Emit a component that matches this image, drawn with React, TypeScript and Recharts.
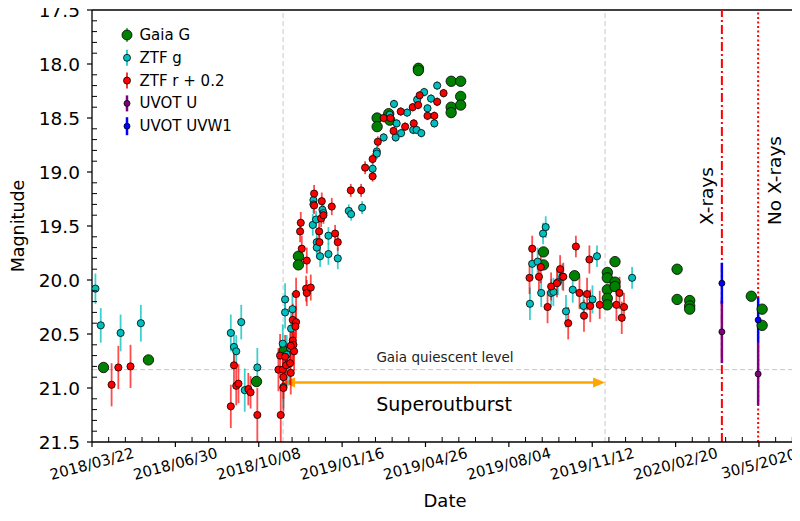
import React from "react";
import { ScatterChart, Scatter, XAxis, YAxis, ErrorBar, ReferenceLine, Legend } from "recharts";

// x values are days counted from 2018/03/22
const xMajorDays = [0, 100, 200, 300, 400, 500, 600, 700, 800];
const xMajorLabels = [
  "2018/03/22", "2018/06/30", "2018/10/08", "2019/01/16", "2019/04/26",
  "2019/08/04", "2019/11/12", "2020/02/20", "30/5/2020",
];
const yMajor = [17.5, 18.0, 18.5, 19.0, 19.5, 20.0, 20.5, 21.0, 21.5];
const yMajorLabels = ["17.5", "18.0", "18.5", "19.0", "19.5", "20.0", "20.5", "21.0", "21.5"];

const xMinor = Array.from({ length: 44 }, (_, i) => i * 20);
const yMinor = Array.from({ length: 41 }, (_, i) => Math.round((17.5 + i * 0.1) * 10) / 10);

// [day, mag]
const gaiaG = [
  [13.8, 20.81], [67.7, 20.74], [197.3, 20.94], [230.4, 20.66], [247.6, 19.78], [247.6, 19.86],
  [342, 18.5], [342, 18.58], [355.9, 18.46], [357.2, 18.52], [391.5, 18.04], [391.5, 18.06],
  [430.9, 18.16], [442.2, 18.16], [442.2, 18.3], [430.8, 18.4], [442.2, 18.38], [430.8, 18.45],
  [541.5, 19.74], [541.5, 19.86], [578.8, 19.96], [618.1, 19.93], [618.1, 19.98], [618.1, 20.09],
  [618.1, 20.17], [618.1, 20.23], [627.3, 19.83], [627.3, 20.02], [627.3, 20.06], [701.8, 19.9],
  [701.8, 20.18], [716.9, 20.19], [716.9, 20.24], [716.9, 20.27], [790.8, 20.15], [803.8, 20.27],
  [803.8, 20.42],
];

// [day, mag, err]
const ztfG = [
  [4.1, 20.08, 0.14], [10.5, 20.42, 0.16], [34.3, 20.49, 0.17], [58.6, 20.4, 0.17],
  [166.5, 20.49, 0.17], [170.3, 20.62, 0.15], [173, 20.66, 0.15], [179, 20.39, 0.16], [183.2, 21.02, 0.2], [198.3, 20.81, 0.18],
  [229.6, 20.99, 0.2], [228.8, 20.59, 0.18], [231.6, 20.18, 0.15], [231.6, 20.3, 0.15], [233.6, 20.69, 0.18],
  [234.8, 20.78, 0.2], [237.6, 20.63, 0.15], [238.8, 20.45, 0.15], [240.4, 20.27, 0.15],
  [264.8, 19.49, 0.1], [265.6, 19.26, 0.08], [265.6, 19.3, 0.08], [268.8, 19.44, 0.08], [269.6, 19.65, 0.1],
  [269.6, 19.7, 0.1], [273.6, 19.78, 0.1], [276.4, 19.35, 0.08], [277.6, 19.38, 0.08], [283.6, 19.59, 0.08],
  [283.6, 19.76, 0.1], [294.8, 19.8, 0.1],
  [308, 19.36, 0.06], [310.8, 19.39, 0.06], [324, 19.33, 0.06], [336.6, 18.97, 0.05], [341.6, 18.81, 0.05], [341.6, 18.83, 0.05],
  [349.8, 18.68, 0.04], [357, 18.47, 0.04], [362.2, 18.37, 0.04], [364.2, 18.68, 0.04], [365.4, 18.55, 0.04],
  [370.8, 18.64, 0.04], [378, 18.45, 0.04], [385.2, 18.61, 0.04], [389.3, 18.61, 0.04], [395, 18.64, 0.04],
  [390, 18.33, 0.04], [398.4, 18.26, 0.04], [402.4, 18.41, 0.04], [406.6, 18.32, 0.04], [410.6, 18.55, 0.04], [414, 18.2, 0.04],
  [525.3, 20.22, 0.15], [528, 19.85, 0.13], [534.5, 19.83, 0.13], [538.8, 20.12, 0.13], [541, 19.57, 0.1],
  [544.2, 19.51, 0.1], [550.7, 20.12, 0.13], [553.4, 20.11, 0.13], [558.8, 20.02, 0.12], [564.2, 19.97, 0.12],
  [568.5, 20.29, 0.15], [576.6, 20.09, 0.12], [589.5, 20.24, 0.13], [600.3, 20.18, 0.13], [605.7, 19.78, 0.1],
  [647.8, 19.98, 0.1],
];

// ZTF r shifted by +0.2, [day, mag, err]
const ztfR = [
  [23.5, 20.97, 0.2], [31.6, 20.81, 0.2], [46.2, 20.8, 0.2],
  [166.5, 21.17, 0.2], [170.3, 20.79, 0.2], [173, 20.98, 0.18], [175.7, 20.96, 0.18], [187.5, 21.01, 0.15],
  [190.2, 21.04, 0.15], [198.3, 21.25, 0.25],
  [240.8, 20.37, 0.15], [244.8, 20.39, 0.15], [244, 20.43, 0.15], [240.8, 20.56, 0.18], [241.6, 20.6, 0.18],
  [242.4, 20.66, 0.18], [238.4, 20.61, 0.18], [225.6, 20.7, 0.2], [231.6, 20.71, 0.2], [223.6, 20.83, 0.2],
  [228.8, 20.83, 0.2], [232.8, 20.79, 0.2], [237.6, 20.77, 0.2], [229.6, 20.9, 0.2], [238.4, 20.86, 0.2],
  [229.6, 21.0, 0.22], [226.4, 21.25, 0.25], [244.8, 20.13, 0.15],
  [249.6, 19.55, 0.1], [250.4, 19.47, 0.1], [251.6, 19.71, 0.12], [257.6, 19.82, 0.12], [256.8, 20.08, 0.12],
  [257.6, 20.12, 0.12], [262.4, 20.07, 0.12], [266.4, 19.2, 0.08], [266.4, 19.31, 0.08], [272.4, 19.55, 0.1],
  [272.8, 19.65, 0.1], [274.8, 19.43, 0.08], [275.6, 19.27, 0.08], [277.6, 19.4, 0.08], [287.6, 19.32, 0.08],
  [291.6, 19.57, 0.08], [294.8, 19.65, 0.08],
  [310.4, 19.17, 0.06], [322.8, 19.17, 0.06], [327.6, 18.96, 0.06], [336.6, 18.88, 0.05], [336.6, 19.04, 0.05], [342.8, 18.72, 0.05],
  [349.8, 18.5, 0.04], [358, 18.5, 0.04], [361.7, 18.62, 0.04], [370.3, 18.44, 0.04], [375.6, 18.58, 0.04],
  [384.7, 18.4, 0.04], [385.9, 18.55, 0.04], [391.2, 18.38, 0.04], [393, 18.29, 0.04], [402.4, 18.48, 0.04],
  [410.6, 18.48, 0.04], [414, 18.35, 0.04], [421.7, 18.27, 0.04],
  [524.8, 19.98, 0.15], [528, 19.71, 0.12], [536.1, 19.97, 0.15], [538.3, 19.88, 0.15], [546.4, 20.25, 0.15],
  [550.7, 20.06, 0.13], [557.7, 20.03, 0.13], [561.5, 19.9, 0.13], [565.3, 19.97, 0.13], [571.2, 20.4, 0.15],
  [580.4, 19.69, 0.1], [584.7, 20.12, 0.15], [590.1, 20.33, 0.15], [593.8, 20.13, 0.15], [596.6, 19.81, 0.13],
  [597.6, 20.24, 0.15], [609, 20.23, 0.13], [629, 20.23, 0.15], [632.7, 20.12, 0.15], [635.4, 20.35, 0.15],
  [638.1, 20.25, 0.13],
];

const uvotU = [[755.5, 20.48, 0.29], [799, 20.87, 0.29]];
const uvotUVW1 = [[755.5, 20.03, 0.19], [799, 20.37, 0.21]];

const quiescentMag = 20.83;
const superoutburst = { start: 229.2, end: 615.4, mag: 20.95 };
const xrayDay = 755.5;
const noXrayDay = 799;

const FONT = "DejaVu Sans";

const toPoints = (rows: number[][], defErr: number) =>
  rows.map(([day, mag, err]) => ({ day, mag, err: err ?? defErr }));

const XTick = (props: any) => {
  const { x, y, payload } = props;
  const i = xMajorDays.indexOf(payload.value);
  if (i < 0) return <line x1={x} x2={x} y1={y - 5} y2={y} stroke="#000" strokeWidth={1} />;
  const cy = y + 22;
  return (
    <g>
      <line x1={x} x2={x} y1={y} y2={y + 5} stroke="#000" strokeWidth={1.2} />
      <text x={x} y={cy} textAnchor="middle" dominantBaseline="central" fontSize={15}
        fontFamily={FONT} fill="#000" transform={`rotate(-15 ${x} ${cy})`}>
        {xMajorLabels[i]}
      </text>
    </g>
  );
};

const YTick = (props: any) => {
  const { x, y, payload } = props;
  const i = yMajor.findIndex((v) => Math.abs(v - payload.value) < 1e-6);
  if (i < 0) return <line x1={x} x2={x + 5} y1={y} y2={y} stroke="#000" strokeWidth={1} />;
  return (
    <g>
      <line x1={x - 5} x2={x} y1={y} y2={y} stroke="#000" strokeWidth={1.2} />
      <text x={x - 12} y={y} textAnchor="end" dominantBaseline="central" fontSize={18.5} fontFamily={FONT} fill="#000">
        {yMajorLabels[i]}
      </text>
    </g>
  );
};

const dot = (r: number, fill: string, stroke = "#000") => (p: any) =>
  <circle cx={p.cx} cy={p.cy} r={r} fill={fill} stroke={stroke} strokeWidth={0.8} />;

const legendItems = [
  { name: "Gaia G", color: "#008000", r: 5, bar: 7, w: 1.2 },
  { name: "ZTF g", color: "#00BFBF", r: 3.5, bar: 8, w: 1.6 },
  { name: "ZTF r + 0.2", color: "#ff0000", r: 3.5, bar: 8, w: 1.6 },
  { name: "UVOT U", color: "#800080", r: 3, bar: 8, w: 2.5 },
  { name: "UVOT UVW1", color: "#0000ff", r: 3, bar: 9, w: 2.5 },
];

const LegendBox = () => (
  <svg width={190} height={120}>
    {legendItems.map((it, i) => {
      const cy = 11 + i * 22.8;
      return (
        <g key={it.name}>
          <line x1={9} x2={9} y1={cy - it.bar} y2={cy + it.bar} stroke={it.color} strokeWidth={it.w} />
          <circle cx={9} cy={cy} r={it.r} fill={it.color} stroke="#000" strokeWidth={0.8} />
          <text x={21.5} y={cy} dominantBaseline="central" fontSize={15} fontFamily={FONT} fill="#000">{it.name}</text>
        </g>
      );
    })}
  </svg>
);

export default function App() {
  return (
    <div style={{ margin: -8, width: 800, height: 521, overflow: "hidden", background: "#fff", position: "relative" }}>
      <ScatterChart width={812} height={521} margin={{ top: 10, right: 3, bottom: 0, left: 0 }}>
        <XAxis
          type="number"
          dataKey="day"
          domain={[0, 860]}
          ticks={xMinor}
          interval={0}
          allowDataOverflow
          tickLine={false}
          tickSize={0}
          tickMargin={0}
          axisLine={{ stroke: "#000", strokeWidth: 1.3 }}
          height={79}
          tick={XTick}
          label={() => (
            <text x={445} y={500} textAnchor="middle" dominantBaseline="central" fontSize={18} fontFamily={FONT}>Date</text>
          )}
        />
        <YAxis
          type="number"
          dataKey="mag"
          domain={[17.5, 21.5]}
          reversed
          ticks={yMinor}
          interval={0}
          allowDataOverflow
          tickLine={false}
          tickSize={0}
          tickMargin={0}
          axisLine={{ stroke: "#000", strokeWidth: 1.3 }}
          width={92}
          tick={YTick}
          label={() => (
            <text x={18} y={226} textAnchor="middle" dominantBaseline="central" fontSize={17.5} fontFamily={FONT}
              transform="rotate(-90 18 226)">Magnitude</text>
          )}
        />
        <ReferenceLine y={17.5} stroke="#000" strokeWidth={1.3} />
        <ReferenceLine x={superoutburst.start} stroke="#c8c8c8" strokeDasharray="5 3" strokeWidth={1} />
        <ReferenceLine x={superoutburst.end} stroke="#c8c8c8" strokeDasharray="5 3" strokeWidth={1} />
        <ReferenceLine
          y={quiescentMag}
          stroke="#c8c8c8"
          strokeDasharray="5 3"
          strokeWidth={1}
          shape={(p: any) => (
            <g>
              <line x1={p.x1} y1={p.y1} x2={p.x2} y2={p.y2} stroke="#c8c8c8" strokeDasharray="5 3" strokeWidth={1} />
              <text x={445} y={p.y1 - 8} textAnchor="middle" fontSize={13.5} fontFamily={FONT} fill="#222">
                Gaia quiescent level
              </text>
            </g>
          )}
        />
        <ReferenceLine
          segment={[{ x: superoutburst.start, y: superoutburst.mag }, { x: superoutburst.end, y: superoutburst.mag }]}
          stroke="#FFA500"
          shape={(p: any) => (
            <g>
              <line x1={p.x1 + 8} y1={p.y1} x2={p.x2 - 8} y2={p.y2} stroke="#FFA500" strokeWidth={2.5} />
              <polygon points={`${p.x1},${p.y1} ${p.x1 + 12},${p.y1 - 5} ${p.x1 + 12},${p.y1 + 5}`} fill="#FFA500" />
              <polygon points={`${p.x2},${p.y2} ${p.x2 - 12},${p.y2 - 5} ${p.x2 - 12},${p.y2 + 5}`} fill="#FFA500" />
              <text x={(p.x1 + p.x2) / 2} y={p.y1 + 21} textAnchor="middle" dominantBaseline="central" fontSize={19}
                fontFamily={FONT} fill="#000">Superoutburst</text>
            </g>
          )}
        />
        <ReferenceLine
          x={xrayDay}
          stroke="#ff0000"
          shape={(p: any) => (
            <g>
              <line x1={p.x1} y1={p.y1} x2={p.x2} y2={p.y2} stroke="#ff0000" strokeWidth={2} strokeDasharray="9 3 2 3" />
              <text x={p.x1 - 15.5} y={225} textAnchor="start" dominantBaseline="central" fontSize={18.5}
                fontFamily={FONT} transform={`rotate(-90 ${p.x1 - 15.5} 225)`}>X-rays</text>
            </g>
          )}
        />
        <ReferenceLine
          x={noXrayDay}
          stroke="#ff0000"
          shape={(p: any) => (
            <g>
              <line x1={p.x1} y1={p.y1} x2={p.x2} y2={p.y2} stroke="#ff0000" strokeWidth={2} strokeDasharray="2 2.5" />
              <text x={p.x1 + 16} y={225} textAnchor="start" dominantBaseline="central" fontSize={18.5}
                fontFamily={FONT} transform={`rotate(-90 ${p.x1 + 16} 225)`}>No X-rays</text>
            </g>
          )}
        />
        <Scatter name="Gaia G" data={toPoints(gaiaG, 0.02)} isAnimationActive={false} shape={dot(5.2, "#008000")}>
          <ErrorBar dataKey="err" direction="y" width={0} stroke="#008000" strokeWidth={1.2} />
        </Scatter>
        <Scatter name="ZTF g" data={toPoints(ztfG, 0.1)} isAnimationActive={false} shape={dot(3.6, "#00BFBF")}>
          <ErrorBar dataKey="err" direction="y" width={0} stroke="#00BFBF" strokeOpacity={0.75} strokeWidth={1.8} />
        </Scatter>
        <Scatter name="ZTF r + 0.2" data={toPoints(ztfR, 0.1)} isAnimationActive={false} shape={dot(3.6, "#ff0000")}>
          <ErrorBar dataKey="err" direction="y" width={0} stroke="#ff0000" strokeOpacity={0.7} strokeWidth={1.8} />
        </Scatter>
        <Scatter name="UVOT U" data={toPoints(uvotU, 0.2)} isAnimationActive={false} shape={dot(3, "#800080")}>
          <ErrorBar dataKey="err" direction="y" width={0} stroke="#800080" strokeWidth={2.5} />
        </Scatter>
        <Scatter name="UVOT UVW1" data={toPoints(uvotUVW1, 0.2)} isAnimationActive={false} shape={dot(3, "#0000ff")}>
          <ErrorBar dataKey="err" direction="y" width={0} stroke="#0000ff" strokeWidth={2.5} />
        </Scatter>
        <Legend
          layout="horizontal"
          verticalAlign="middle"
          align="center"
          wrapperStyle={{ position: "absolute", left: 118, top: 24, width: 190, height: 120 }}
          content={() => <LegendBox />}
        />
      </ScatterChart>
    </div>
  );
}
